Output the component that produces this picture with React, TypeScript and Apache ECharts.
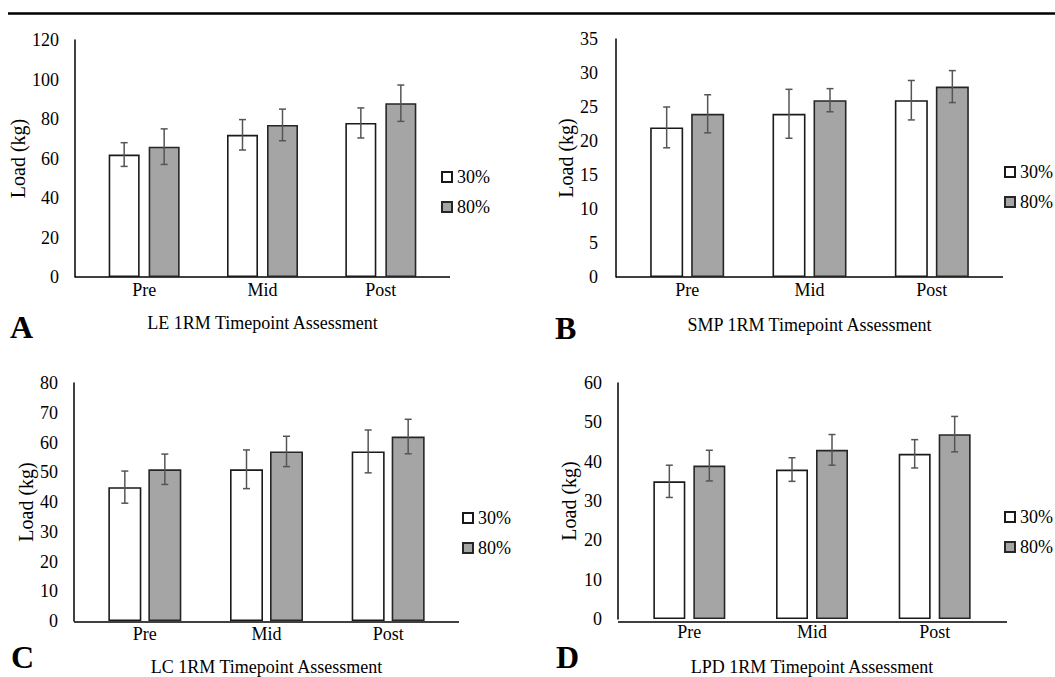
import React, { useEffect, useRef } from "react";
import * as echarts from "echarts";

const categories = ["Pre", "Mid", "Post"];
const seriesNames = ["30%", "80%"];

// LE
const leMean30 = [62, 72, 78];
const leErr30 = [6, 7.7, 7.6];
const leMean80 = [66, 77, 88];
const leErr80 = [9, 8, 9.2];
// SMP
const smpMean30 = [22, 24, 26];
const smpErr30 = [3, 3.6, 2.9];
const smpMean80 = [24, 26, 28];
const smpErr80 = [2.8, 1.7, 2.35];
// LC
const lcMean30 = [45, 51, 57];
const lcErr30 = [5.4, 6.5, 7.2];
const lcMean80 = [51, 57, 62];
const lcErr80 = [5.1, 5.1, 5.8];
// LPD
const lpdMean30 = [35, 38, 42];
const lpdErr30 = [4.1, 3, 3.6];
const lpdMean80 = [39, 43, 47];
const lpdErr80 = [3.9, 3.9, 4.5];

const yMax = [120, 35, 80, 60];
const yInterval = [20, 5, 10, 10];
const panelLetters = ["A", "B", "C", "D"];
const panelTitles = [
  "LE 1RM Timepoint Assessment",
  "SMP 1RM Timepoint Assessment",
  "LC 1RM Timepoint Assessment",
  "LPD 1RM Timepoint Assessment",
];

const FONT = "Liberation Serif";

const panelData = [
  { m30: leMean30, e30: leErr30, m80: leMean80, e80: leErr80 },
  { m30: smpMean30, e30: smpErr30, m80: smpMean80, e80: smpErr80 },
  { m30: lcMean30, e30: lcErr30, m80: lcMean80, e80: lcErr80 },
  { m30: lpdMean30, e30: lpdErr30, m80: lpdMean80, e80: lpdErr80 },
];

// layout
const layout = [
  { left: 85, top: 40, width: 355, height: 237, axisX: 75, axisEnd: 450, bw: 31, gap: 9, nameGap: 45, labelMargin: 16, legend: { left: 441, top: 168 }, letter: { x: 10, y: 327 }, titleGap: 37 },
  { left: 626, top: 39, width: 367, height: 238, axisX: 616, axisEnd: 1003, bw: 33, gap: 8, nameGap: 40, labelMargin: 18, legend: { left: 1004, top: 163 }, letter: { x: 555, y: 328 }, titleGap: 39 },
  { left: 84, top: 383, width: 365, height: 239, axisX: 74, axisEnd: 459, bw: 33, gap: 7, nameGap: 37, labelMargin: 16, legend: { left: 462, top: 509 }, letter: { x: 11, y: 657 }, titleGap: 37 },
  { left: 628, top: 383, width: 368, height: 239, axisX: 618, axisEnd: 1007, bw: 32, gap: 8, nameGap: 39, labelMargin: 16, legend: { left: 1004, top: 508 }, letter: { x: 556, y: 657 }, titleGap: 39 },
];

function buildOption() {
  const grid: any[] = [];
  const xAxis: any[] = [];
  const yAxis: any[] = [];
  const legend: any[] = [];
  const series: any[] = [];
  const graphic: any[] = [
    { type: "line", shape: { x1: 8, y1: 13.5, x2: 1055, y2: 13.5 }, style: { stroke: "#000", lineWidth: 2.5 } },
  ];

  layout.forEach((L, p) => {
    const d = panelData[p];
    grid.push({ left: L.left, top: L.top, width: L.width, height: L.height });
    xAxis.push({
      type: "category",
      gridIndex: p,
      data: categories,
      axisLine: { show: false },
      axisTick: { show: false },
      axisLabel: { color: "#000", fontSize: 18, fontFamily: FONT, margin: 4 },
      name: panelTitles[p],
      nameLocation: "middle",
      nameGap: L.titleGap,
      nameTextStyle: { color: "#000", fontSize: 18, fontFamily: FONT },
    });
    yAxis.push({
      type: "value",
      gridIndex: p,
      min: 0,
      max: yMax[p],
      interval: yInterval[p],
      offset: L.left - L.axisX,
      axisLine: { show: true, lineStyle: { color: "#000", width: 1.5 } },
      axisTick: { show: false },
      splitLine: { show: false },
      axisLabel: { color: "#000", fontSize: 18, fontFamily: FONT, margin: L.labelMargin },
      name: "Load (kg)",
      nameLocation: "middle",
      nameGap: L.nameGap,
      nameTextStyle: { color: "#000", fontSize: 20, fontFamily: FONT },
    });
    legend.push({
      data: seriesNames,
      orient: "vertical",
      left: L.legend.left,
      top: L.legend.top,
      padding: 0,
      itemWidth: 10,
      itemHeight: 10,
      itemGap: 12,
      icon: "rect",
      textStyle: { color: "#000", fontSize: 18, fontFamily: FONT },
    });
    const bottomY = L.top + L.height;
    graphic.push({ type: "line", shape: { x1: L.axisX, y1: bottomY, x2: L.axisEnd, y2: bottomY }, style: { stroke: "#000", lineWidth: 1.5 } });
    graphic.push({
      type: "text",
      style: {
        text: panelLetters[p],
        x: L.letter.x,
        y: L.letter.y,
        font: `bold 32px ${FONT}`,
        fill: "#000",
        verticalAlign: "middle",
        textVerticalAlign: "middle",
      },
    });

    const groups = [
      { name: "30%", mean: d.m30, err: d.e30, color: "#ffffff", border: "#1a1a1a", off: -(L.bw + L.gap) / 2 },
      { name: "80%", mean: d.m80, err: d.e80, color: "#a5a5a5", border: "#262626", off: (L.bw + L.gap) / 2 },
    ];
    groups.forEach((g) => {
      series.push({
        type: "bar",
        name: g.name,
        xAxisIndex: p,
        yAxisIndex: p,
        data: g.mean,
        barWidth: L.bw,
        barGap: `${(L.gap / L.bw) * 100}%`,
        itemStyle: { color: g.color, borderColor: g.border, borderWidth: 1.6 },
      });
    });
    groups.forEach((g) => {
      const off = g.off;
      series.push({
        type: "custom",
        name: "err" + g.name,
        xAxisIndex: p,
        yAxisIndex: p,
        z: 5,
        data: g.mean.map((m, i) => [i, m, g.err[i]]),
        encode: { x: 0, y: 1 },
        renderItem: (params: any, api: any) => {
          const i = api.value(0);
          const m = api.value(1);
          const e = api.value(2);
          const hi = api.coord([i, m + e]);
          const lo = api.coord([i, m - e]);
          const x = hi[0] + off;
          const cap = 3.5;
          const st = { stroke: "#555555", lineWidth: 1.5 };
          return {
            type: "group",
            children: [
              { type: "line", shape: { x1: x, y1: hi[1], x2: x, y2: lo[1] }, style: st },
              { type: "line", shape: { x1: x - cap, y1: hi[1], x2: x + cap, y2: hi[1] }, style: st },
              { type: "line", shape: { x1: x - cap, y1: lo[1], x2: x + cap, y2: lo[1] }, style: st },
            ],
          };
        },
      });
    });
  });

  return {
    animation: false,
    backgroundColor: "#ffffff",
    textStyle: { fontFamily: FONT },
    grid,
    xAxis,
    yAxis,
    legend,
    series,
    graphic,
  };
}

export default function App() {
  const ref = useRef<HTMLDivElement>(null);
  useEffect(() => {
    if (!ref.current) return;
    const chart = echarts.init(ref.current, null, { renderer: "svg" });
    chart.setOption(buildOption() as any);
    return () => chart.dispose();
  }, []);
  return (
    <div
      ref={ref}
      style={{ position: "absolute", left: 0, top: 0, width: 1055, height: 677, background: "#fff" }}
    />
  );
}
